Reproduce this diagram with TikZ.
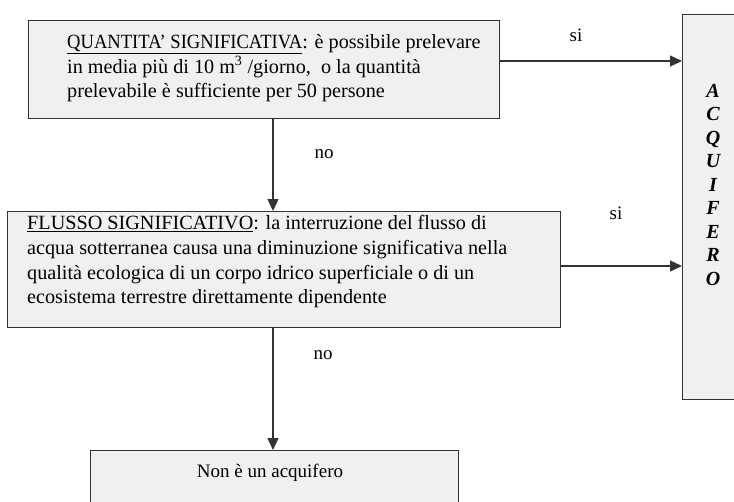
\documentclass[tikz,border=0pt]{standalone}
\usepackage{fontspec}
\setmainfont{Liberation Serif}
\usetikzlibrary{arrows.meta}
\definecolor{boxfill}{HTML}{F0F0F0}
\definecolor{linec}{HTML}{333333}
\begin{document}
\begin{tikzpicture}[x=1pt,y=-1pt,
  box/.style={draw=linec, line width=1.3pt, fill=boxfill, inner sep=0pt, anchor=north west},
  txt/.style={inner sep=0pt, align=left, font=\fontsize{20.2}{24.8}\selectfont},
  lbl/.style={inner sep=0pt, font=\fontsize{19}{22}\selectfont},
  arr/.style={draw=linec, line width=1.3pt, -{Triangle[length=12pt,width=11pt]}}]
\useasboundingbox (0,0) rectangle (734,501);
\clip (0,0) rectangle (734,501);
% boxes
\node[box, minimum width=471pt, minimum height=98pt] (q) at (28,20) {};
\node[box, minimum width=553pt, minimum height=116pt] (f) at (7,211) {};
\node[box, minimum width=368pt, minimum height=80pt] (n) at (90,450) {};
\node[box, minimum width=80pt, minimum height=385pt] (a) at (682,14) {};
% texts
\node[txt, anchor=north west] (qt) at (67,34) {\underline{\scalebox{0.92}[1]{QUANTITA’ SIGNIFICATIVA}}: è possibile prelevare\\in media più di 10 m\textsuperscript{3} /giorno,\ \ o la quantità\\prelevabile è sufficiente per 50 persone};
\node[txt, anchor=north west] (ft) at (27,215) {\underline{FLUSSO SIGNIFICATIVO}: la interruzione del flusso di\\acqua sotterranea causa una diminuzione significativa nella\\qualità ecologica di un corpo idrico superficiale o di un\\ecosistema terrestre direttamente dipendente};
\node[lbl] (nt) at (270,473) {Non è un acquifero};
\node[inner sep=0pt, align=center, anchor=north, font=\fontsize{20}{23.5}\selectfont\bfseries\itshape] (at) at (713,84) {A\\C\\Q\\U\\I\\F\\E\\R\\O};
% connectors
\coordinate (v) at (273,0);
\coordinate (h1) at (0,61);
\coordinate (h2) at (0,266);
\draw[arr] (q.south -| v) -- (f.north -| v);
\draw[arr] (f.south -| v) -- (n.north -| v);
\draw[arr] (q.east |- h1) -- (a.west |- h1);
\draw[arr] (f.east |- h2) -- (a.west |- h2);
% labels
\node[lbl] (no1) at (324,154) {no};
\node[lbl] (no2) at (323,355) {no};
\node[lbl] (si1) at (576,35) {si};
\node[lbl] (si2) at (616,213) {si};
\end{tikzpicture}
\end{document}
